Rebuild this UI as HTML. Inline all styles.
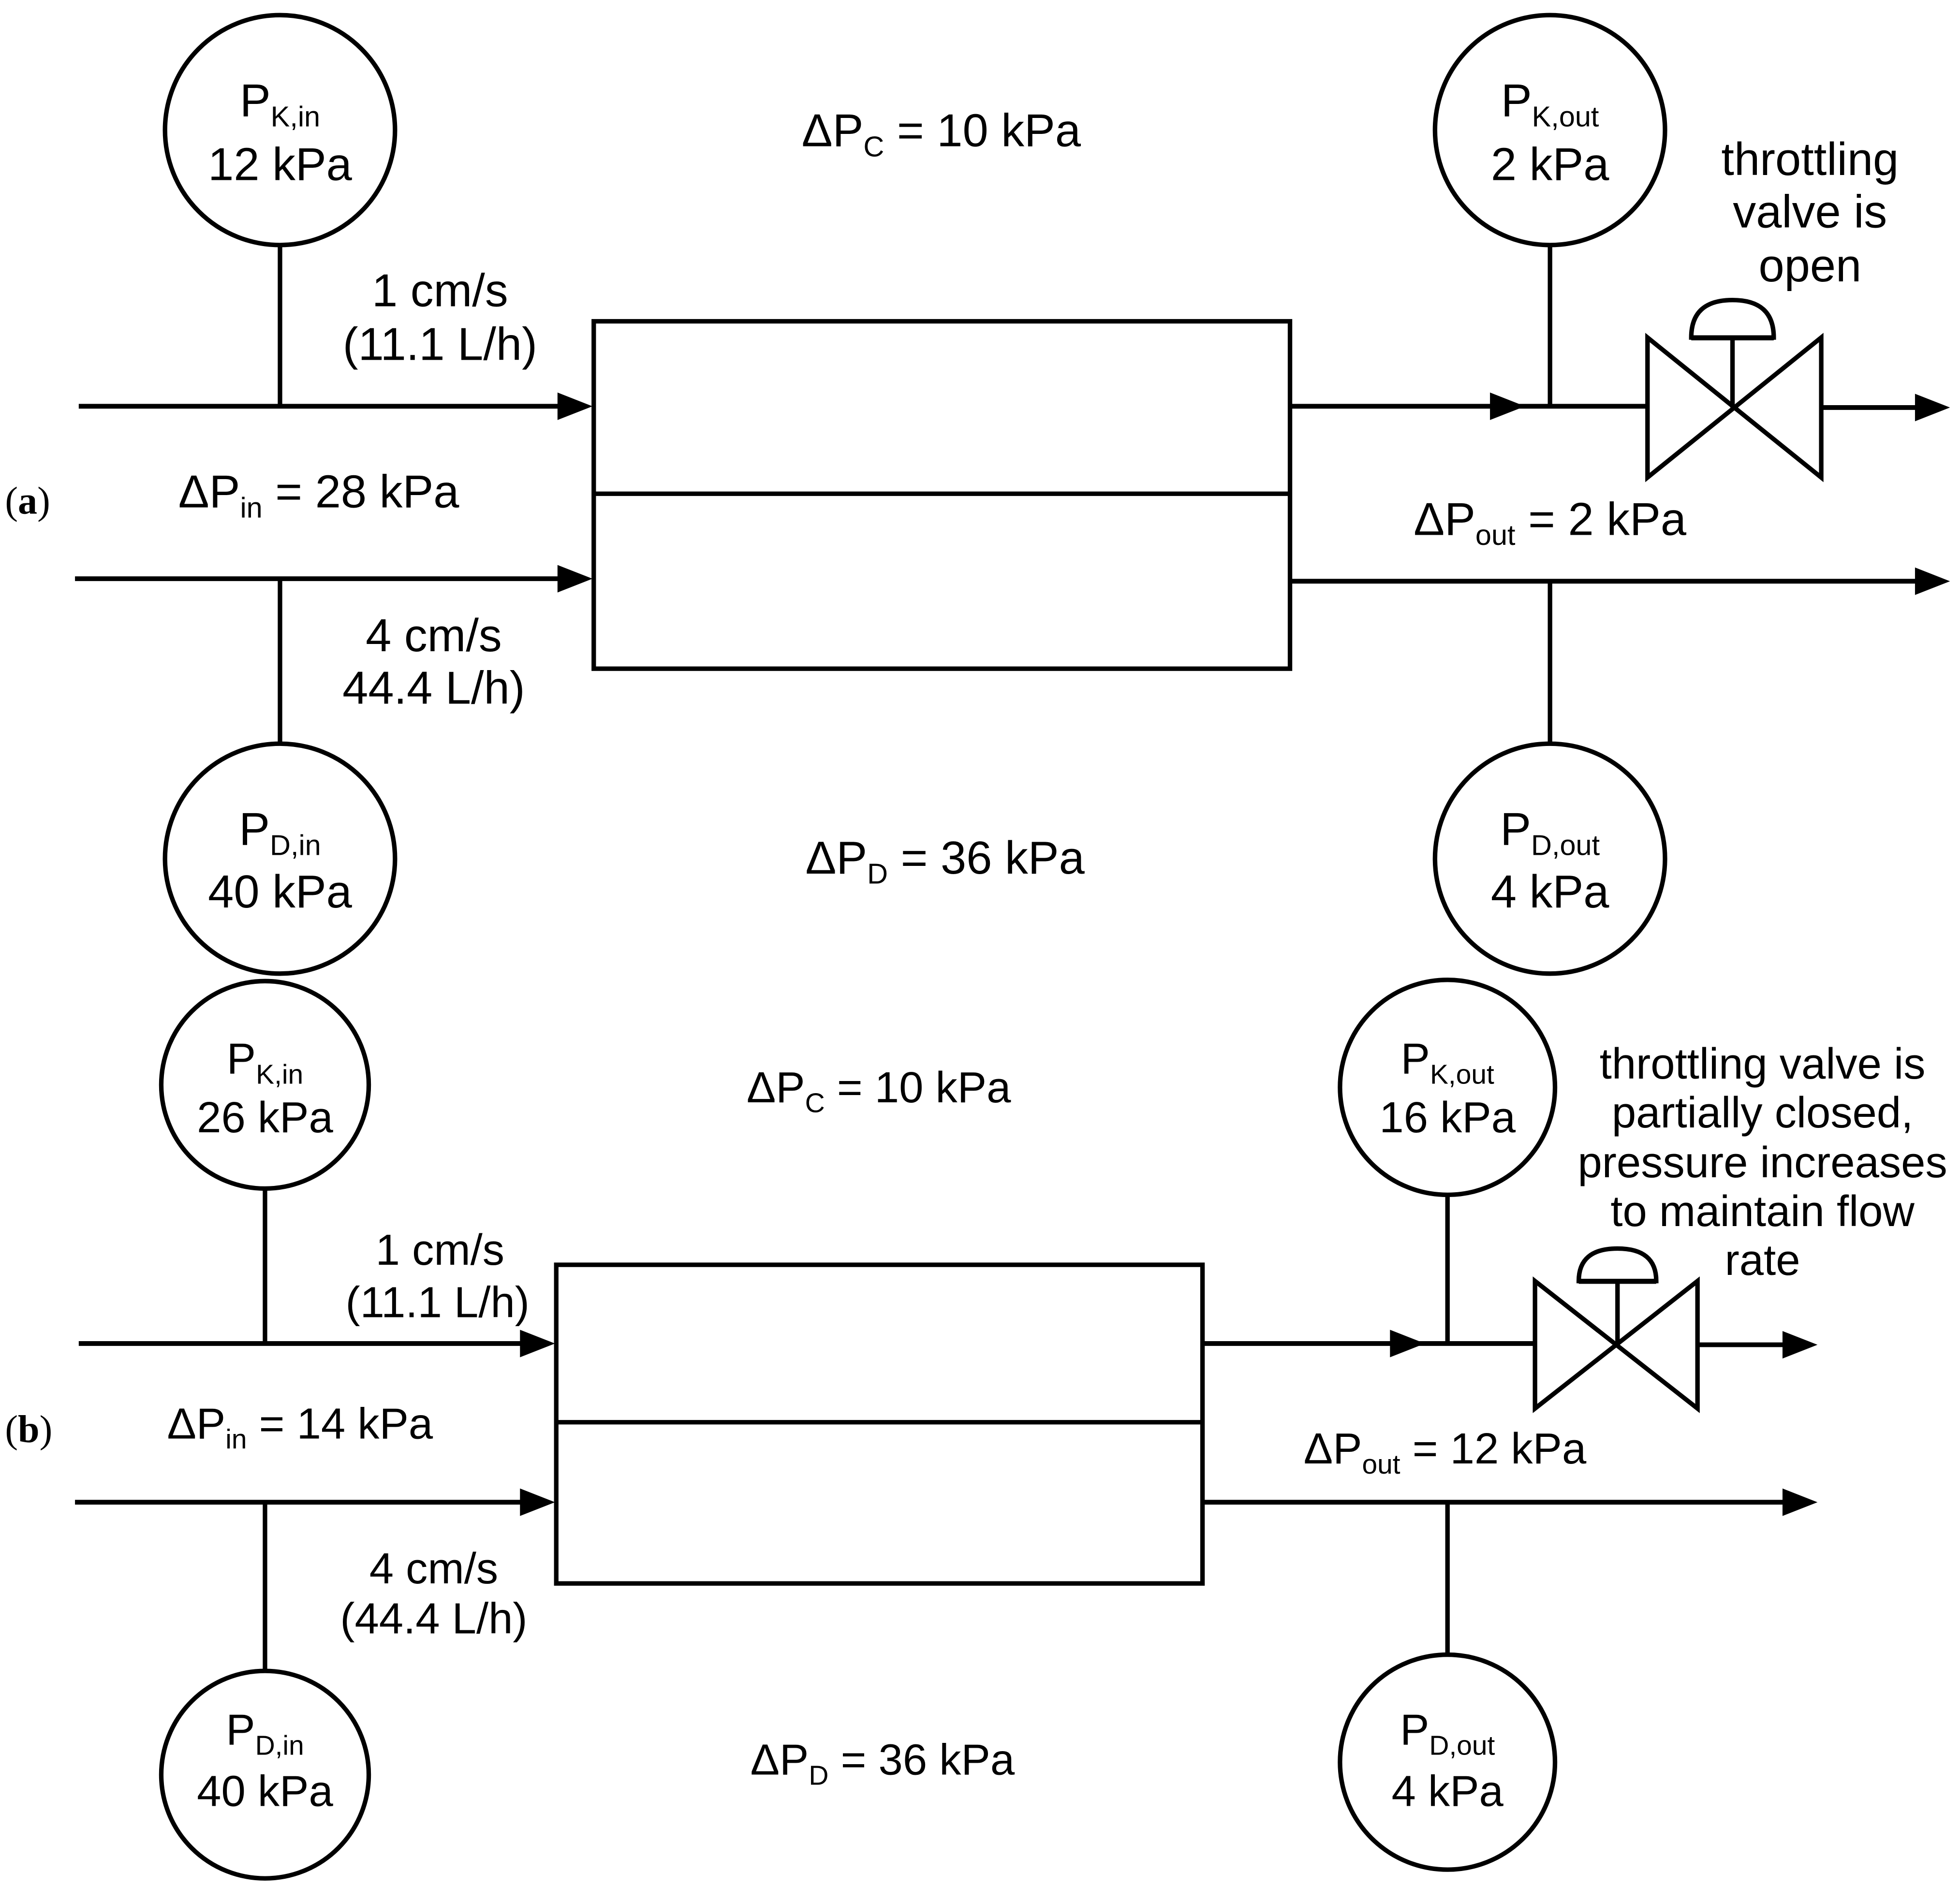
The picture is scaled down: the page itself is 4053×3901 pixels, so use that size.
<!DOCTYPE html>
<html><head><meta charset="utf-8"><style>
html,body{margin:0;padding:0;background:#fff}
svg{display:block}
text{font-family:"Liberation Sans",sans-serif;fill:#000}
.s{font-family:"Liberation Serif",serif}
</style></head><body>
<svg width="4053" height="3901" viewBox="0 0 1568 1509" xmlns="http://www.w3.org/2000/svg">
<g fill="none" stroke="#000" stroke-width="3.6">
<!-- (a) -->
<circle cx="224" cy="104" r="92"/>
<line x1="224" y1="196" x2="224" y2="325"/>
<circle cx="224" cy="687" r="92"/>
<line x1="224" y1="463" x2="224" y2="595"/>
<rect x="475" y="257" width="557" height="278"/>
<line x1="475" y1="395" x2="1032" y2="395"/>
<circle cx="1240" cy="104" r="92"/>
<line x1="1240" y1="196" x2="1240" y2="325"/>
<circle cx="1240" cy="687" r="92"/>
<line x1="1240" y1="465" x2="1240" y2="595"/>
<path d="M1318,270 L1318,382 L1457,270 L1457,382 Z"/>
<line x1="1386" y1="326" x2="1386" y2="270"/>
<path d="M1353,270 L1419,270 Q1419,240 1386,240 Q1353,240 1353,270 Z"/>
<!-- (b) -->
<circle cx="212" cy="868" r="83"/>
<line x1="212" y1="951" x2="212" y2="1075"/>
<circle cx="212" cy="1420" r="83"/>
<line x1="212" y1="1202" x2="212" y2="1337"/>
<rect x="445" y="1012" width="517" height="255"/>
<line x1="445" y1="1138" x2="962" y2="1138"/>
<circle cx="1158" cy="870" r="86"/>
<line x1="1158" y1="956" x2="1158" y2="1075"/>
<circle cx="1158" cy="1410" r="86"/>
<line x1="1158" y1="1202" x2="1158" y2="1324"/>
<path d="M1228,1025 L1228,1127 L1358,1025 L1358,1127 Z"/>
<line x1="1294" y1="1076" x2="1294" y2="1025"/>
<path d="M1263,1025 L1325,1025 Q1325,999 1294,999 Q1263,999 1263,1025 Z"/>
</g>
<g stroke="#000" stroke-width="2.5">
<line x1="1353" y1="271" x2="1419" y2="271"/>
<line x1="1263" y1="1026" x2="1325" y2="1026"/>
</g>
<g stroke="#000" stroke-width="3.8">
<line x1="63" y1="325" x2="460" y2="325"/>
<line x1="60" y1="463" x2="460" y2="463"/>
<line x1="1032" y1="325" x2="1318" y2="325"/>
<line x1="1457" y1="326" x2="1545" y2="326"/>
<line x1="1032" y1="465" x2="1545" y2="465"/>
<line x1="63" y1="1075" x2="430" y2="1075"/>
<line x1="60" y1="1202" x2="430" y2="1202"/>
<line x1="962" y1="1075" x2="1228" y2="1075"/>
<line x1="1358" y1="1076" x2="1440" y2="1076"/>
<line x1="962" y1="1202" x2="1440" y2="1202"/>
</g>
<g fill="#000">
<polygon points="446,314 474,325 446,336"/>
<polygon points="446,452 474,463 446,474"/>
<polygon points="1192,314 1220,325 1192,336"/>
<polygon points="1532,315 1560,326 1532,337"/>
<polygon points="1532,454 1560,465 1532,476"/>
<polygon points="416,1064 444,1075 416,1086"/>
<polygon points="416,1191 444,1202 416,1213"/>
<polygon points="1112,1064 1140,1075 1112,1086"/>
<polygon points="1426,1065 1454,1076 1426,1087"/>
<polygon points="1426,1191 1454,1202 1426,1213"/>
</g>

<g font-size="37" text-anchor="middle">
<text x="224" y="93">P<tspan font-size="23" dy="8">K,in</tspan></text>
<text x="224" y="144">12 kPa</text>
<text x="224" y="676">P<tspan font-size="23" dy="8">D,in</tspan></text>
<text x="224" y="726">40 kPa</text>
<text x="1240" y="93">P<tspan font-size="23" dy="8">K,out</tspan></text>
<text x="1240" y="144">2 kPa</text>
<text x="1240" y="676">P<tspan font-size="23" dy="8">D,out</tspan></text>
<text x="1240" y="726">4 kPa</text>
<text x="753" y="117">ΔP<tspan font-size="23" dy="8">C</tspan><tspan dy="-8"> = 10 kPa</tspan></text>
<text x="756" y="699">ΔP<tspan font-size="23" dy="8">D</tspan><tspan dy="-8"> = 36 kPa</tspan></text>
<text x="352" y="245">1 cm/s</text>
<text x="352" y="288">(11.1 L/h)</text>
<text x="347" y="521">4 cm/s</text>
<text x="347" y="563">44.4 L/h)</text>
<text x="255" y="406">ΔP<tspan font-size="23" dy="8">in</tspan><tspan dy="-8"> = 28 kPa</tspan></text>
<text x="1240" y="428">ΔP<tspan font-size="23" dy="8">out</tspan><tspan dy="-8"> = 2 kPa</tspan></text>
<text x="1448" y="140">throttling</text>
<text x="1448" y="182">valve is</text>
<text x="1448" y="225">open</text>
</g>
<g font-size="35" text-anchor="middle">
<text x="212" y="859">P<tspan font-size="22" dy="8">K,in</tspan></text>
<text x="212" y="906">26 kPa</text>
<text x="212" y="1396">P<tspan font-size="22" dy="8">D,in</tspan></text>
<text x="212" y="1445">40 kPa</text>
<text x="1158" y="859">P<tspan font-size="22" dy="8">K,out</tspan></text>
<text x="1158" y="906">16 kPa</text>
<text x="1158" y="1396">P<tspan font-size="22" dy="8">D,out</tspan></text>
<text x="1158" y="1445">4 kPa</text>
<text x="703" y="882">ΔP<tspan font-size="22" dy="8">C</tspan><tspan dy="-8"> = 10 kPa</tspan></text>
<text x="706" y="1420">ΔP<tspan font-size="22" dy="8">D</tspan><tspan dy="-8"> = 36 kPa</tspan></text>
<text x="352" y="1012">1 cm/s</text>
<text x="350" y="1054">(11.1 L/h)</text>
<text x="347" y="1267">4 cm/s</text>
<text x="347" y="1307">(44.4 L/h)</text>
<text x="240" y="1151">ΔP<tspan font-size="22" dy="8">in</tspan><tspan dy="-8"> = 14 kPa</tspan></text>
<text x="1156" y="1171">ΔP<tspan font-size="22" dy="8">out</tspan><tspan dy="-8"> = 12 kPa</tspan></text>
<text x="1410" y="863">throttling valve is</text>
<text x="1410" y="902">partially closed,</text>
<text x="1410" y="942">pressure increases</text>
<text x="1410" y="981">to maintain flow</text>
<text x="1410" y="1020">rate</text>
</g>
<text class="s" x="4" y="411" font-size="31">(<tspan font-weight="bold">a</tspan>)</text>
<text class="s" x="4" y="1154" font-size="31">(<tspan font-weight="bold">b</tspan>)</text>
</svg>
</body></html>
